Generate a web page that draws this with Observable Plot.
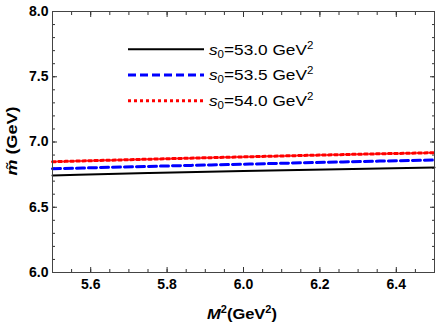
<!DOCTYPE html>
<html><head><meta charset="utf-8">
<script src="https://cdn.jsdelivr.net/npm/d3@7"></script>
<script src="https://cdn.jsdelivr.net/npm/@observablehq/plot@0.6"></script>
<style>body{margin:0;background:#fff}#c{position:relative;width:436px;height:327px}</style>
</head><body><div id="c"></div>
<script>
const M2 = [5.5, 5.75, 6.0, 6.25, 6.5];
const s0Labels = ["53.0", "53.5", "54.0"];
const mBlack = [6.744, 6.762, 6.778, 6.792, 6.805];
const mBlue  = [6.795, 6.813, 6.830, 6.847, 6.862];
const mRed   = [6.849, 6.868, 6.886, 6.903, 6.918];
const xMajor = [5.6, 5.8, 6.0, 6.2, 6.4];
const xMinor = d3.range(5.5, 6.5001, 0.05).map(v => +v.toFixed(2));
const yMajor = [6.0, 6.5, 7.0, 7.5, 8.0];
const yMinor = d3.range(6.0, 8.0001, 0.1).map(v => +v.toFixed(1));

const series = [
  {vals: mBlack, color: "#000000", width: 2, dash: null},
  {vals: mBlue, color: "#0000ff", width: 3, dash: "8,4"},
  {vals: mRed, color: "#ff0000", width: 3, dash: "3,3"}
];
const rows = series.flatMap((s, i) => M2.map((x, j) => ({x, y: s.vals[j], k: i})));

const blank = () => "";
const tickCol = "#333";
const plot = Plot.plot({
  width: 436, height: 327,
  marginLeft: 52, marginRight: 2, marginTop: 11, marginBottom: 55,
  x: {domain: [5.5, 6.5]},
  y: {domain: [6, 8]},
  style: {fontFamily: "Liberation Sans, Arial, sans-serif", background: "white"},
  marks: [
    Plot.axisX({anchor: "bottom", ticks: xMinor, tickSize: -3, tickFormat: blank, label: null, stroke: tickCol}),
    Plot.axisX({anchor: "top", ticks: xMinor, tickSize: -3, tickFormat: blank, label: null, stroke: tickCol}),
    Plot.axisY({anchor: "left", ticks: yMinor, tickSize: -3, tickFormat: blank, label: null, stroke: tickCol}),
    Plot.axisY({anchor: "right", ticks: yMinor, tickSize: -3, tickFormat: blank, label: null, stroke: tickCol}),
    Plot.axisX({anchor: "top", ticks: xMajor, tickSize: -5, tickFormat: blank, label: null, stroke: tickCol}),
    Plot.axisY({anchor: "right", ticks: yMajor, tickSize: -5, tickFormat: blank, label: null, stroke: tickCol}),
    Plot.axisX({anchor: "bottom", ticks: xMajor, tickSize: -5, tickPadding: 12, tickFormat: d3.format(".1f"),
      label: null, stroke: tickCol, fill: "#000", fontSize: 14, fontWeight: "bold"}),
    Plot.axisY({anchor: "left", ticks: yMajor, tickSize: -5, tickPadding: 9, tickFormat: d3.format(".1f"),
      label: null, stroke: tickCol, fill: "#000", fontSize: 14, fontWeight: "bold"}),
    ...series.map((s, i) => Plot.line(rows.filter(r => r.k === i), {
      x: "x", y: "y", stroke: s.color, strokeWidth: s.width, strokeDasharray: s.dash, curve: "monotone-x"
    })),
    Plot.frame({stroke: "#444", strokeWidth: 1})
  ]
});
document.getElementById("c").appendChild(plot);

const svg = d3.select(plot);
const font = "Liberation Sans, Arial, sans-serif";
// x axis label
const xl = svg.append("text").attr("transform", "translate(242,319) scale(1.1,1)")
  .attr("text-anchor", "middle").attr("font-family", font).attr("font-size", 15).attr("font-weight", "bold");
xl.append("tspan").attr("font-style", "italic").text("M");
xl.append("tspan").attr("font-size", 10).attr("dy", -6).text("2");
xl.append("tspan").attr("dy", 6).text("(GeV");
xl.append("tspan").attr("font-size", 10).attr("dy", -6).text("2");
xl.append("tspan").attr("dy", 6).text(")");
// y axis label
const yl = svg.append("text").attr("transform", "translate(17,141) rotate(-90) scale(1.2,1)")
  .attr("text-anchor", "middle").attr("font-family", font).attr("font-size", 15).attr("font-weight", "bold");
yl.append("tspan").attr("font-style", "italic").text("m\u0303");
yl.append("tspan").text(" (GeV)");
// legend
const lg = svg.append("g");
series.forEach((s, i) => {
  const y = 49.3 + i * 25.7;
  lg.append("line").attr("x1", 128).attr("x2", 204).attr("y1", y).attr("y2", y)
    .attr("stroke", s.color).attr("stroke-width", s.width).attr("stroke-dasharray", s.dash);
  const t = lg.append("text").attr("transform", `translate(209,${y + 5.4}) scale(1.15,1)`)
    .attr("text-anchor", "start")
    .attr("font-family", font).attr("font-size", 15).attr("fill", "#000");
  t.append("tspan").attr("font-style", "italic").text("s");
  t.append("tspan").attr("font-size", 10).attr("dy", 3).text("0");
  t.append("tspan").attr("dy", -3).text("=" + s0Labels[i] + " GeV");
  t.append("tspan").attr("font-size", 10).attr("dy", -6).text("2");
});
</script></body></html>
